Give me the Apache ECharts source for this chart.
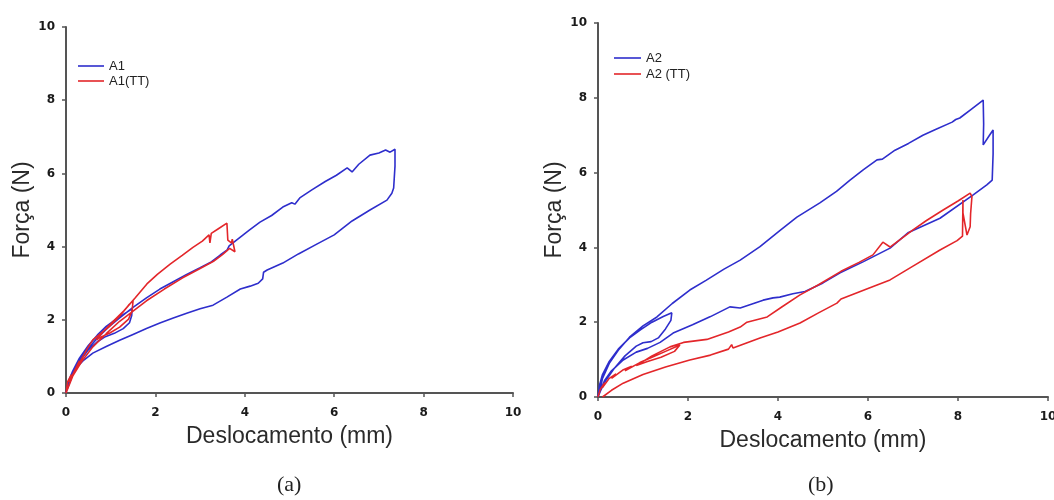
<!DOCTYPE html>
<html>
<head>
<meta charset="utf-8">
<script src="https://cdn.jsdelivr.net/npm/echarts@6/dist/echarts.min.js"></script>
<style>
  html, body { margin: 0; padding: 0; background: #fff; }
  #chart { width: 1054px; height: 500px; }
</style>
</head>
<body>
<div id="chart"></div>
<script>
// Force–displacement loading/unloading loops, two specimens.
// Each path is a list of [displacement (mm), force (N)] in acquisition order.

const AXIS_TICKS = [0, 2, 4, 6, 8, 10];

const A1 = [
  [0, 0], [0.05, 0.3], [0.15, 0.6], [0.3, 0.95], [0.5, 1.3], [0.7, 1.58], [0.9, 1.82],
  [1.1, 2.0], [1.3, 2.16], [1.48, 2.3],
  [1.47, 2.12], [1.42, 1.92], [1.28, 1.76], [1.08, 1.63], [0.88, 1.54], [0.7, 1.4],
  [0.5, 1.18], [0.3, 0.85], [0.14, 0.48], [0.03, 0.12],
  [0.1, 0.45], [0.25, 0.8], [0.45, 1.15], [0.7, 1.5], [0.95, 1.8], [1.2, 2.05],
  [1.5, 2.34], [1.8, 2.6], [2.1, 2.84], [2.4, 3.04], [2.7, 3.24], [3.0, 3.42],
  [3.25, 3.58], [3.45, 3.77], [3.6, 3.9], [3.65, 4.02], [3.9, 4.26], [4.1, 4.45],
  [4.34, 4.67], [4.6, 4.85], [4.85, 5.08], [5.05, 5.2], [5.12, 5.16], [5.23, 5.33],
  [5.5, 5.55], [5.8, 5.78], [6.05, 5.95], [6.29, 6.15], [6.4, 6.04], [6.55, 6.25],
  [6.8, 6.5], [7.0, 6.56], [7.15, 6.64], [7.25, 6.58], [7.36, 6.66],
  [7.36, 6.2], [7.33, 5.6], [7.29, 5.46], [7.18, 5.27],
  [6.8, 5.0], [6.4, 4.7], [6.0, 4.32], [5.6, 4.06], [5.2, 3.8], [4.85, 3.55],
  [4.5, 3.36], [4.42, 3.3], [4.4, 3.12], [4.3, 3.0], [4.12, 2.92], [3.9, 2.84],
  [3.6, 2.62], [3.29, 2.4], [3.0, 2.3], [2.7, 2.18], [2.4, 2.05], [2.1, 1.91],
  [1.8, 1.76], [1.5, 1.6], [1.2, 1.44], [0.9, 1.27], [0.6, 1.09], [0.4, 0.9],
  [0.16, 0.6], [0.05, 0.3], [0, 0]
];

const A1_TT = [
  [0, 0], [0.04, 0.32], [0.12, 0.5], [0.07, 0.3], [0.18, 0.58], [0.3, 0.88], [0.22, 0.62],
  [0.36, 0.95], [0.48, 1.22], [0.6, 1.45], [0.8, 1.65], [0.98, 1.83], [1.2, 2.1],
  [1.4, 2.4], [1.5, 2.52],
  [1.48, 2.25], [1.4, 2.02], [1.2, 1.8], [0.98, 1.64], [0.8, 1.54], [0.68, 1.45],
  [0.85, 1.7], [1.05, 1.95], [1.3, 2.25], [1.55, 2.6], [1.81, 2.98], [2.05, 3.25],
  [2.33, 3.52], [2.6, 3.76], [2.84, 3.98], [3.05, 4.15], [3.2, 4.32], [3.22, 4.1],
  [3.25, 4.36], [3.4, 4.48], [3.6, 4.64], [3.62, 4.18], [3.7, 4.1], [3.72, 4.2],
  [3.78, 3.86], [3.66, 3.95], [3.5, 3.78],
  [3.3, 3.6], [3.0, 3.4], [2.6, 3.14], [2.2, 2.84], [1.8, 2.52], [1.5, 2.24],
  [1.2, 1.96], [0.9, 1.62], [0.6, 1.26], [0.35, 0.86], [0.15, 0.46], [0, 0]
];

const A2 = [
  [0, 0], [0.03, 0.3], [0.1, 0.6], [0.25, 0.95], [0.45, 1.28], [0.7, 1.58], [0.95, 1.8],
  [1.2, 2.0], [1.45, 2.15], [1.64, 2.25],
  [1.62, 2.05], [1.5, 1.82], [1.34, 1.58], [1.18, 1.48], [1.0, 1.45], [0.85, 1.36],
  [0.6, 1.1], [0.35, 0.75], [0.15, 0.4], [0.03, 0.1],
  [0.1, 0.5], [0.25, 0.9], [0.45, 1.25], [0.7, 1.6], [1.0, 1.9], [1.31, 2.14],
  [1.65, 2.5], [2.04, 2.86], [2.4, 3.12], [2.8, 3.42], [3.16, 3.66], [3.6, 4.02],
  [4.04, 4.45], [4.42, 4.81], [4.93, 5.19], [5.3, 5.5], [5.6, 5.8], [5.9, 6.08],
  [6.2, 6.34], [6.32, 6.36], [6.6, 6.6], [6.9, 6.78], [7.22, 7.0], [7.5, 7.15],
  [7.87, 7.35], [7.95, 7.42], [8.04, 7.46], [8.3, 7.7], [8.56, 7.94],
  [8.57, 7.3], [8.56, 6.74], [8.7, 7.0], [8.78, 7.14], [8.78, 6.5], [8.76, 5.8],
  [8.64, 5.67], [8.33, 5.4], [7.6, 4.78], [6.9, 4.4], [6.49, 3.98], [5.9, 3.62],
  [5.38, 3.32], [5.0, 3.05], [4.6, 2.82], [4.33, 2.76], [4.04, 2.67], [3.89, 2.65],
  [3.67, 2.59], [3.16, 2.38], [2.93, 2.41], [2.5, 2.15], [2.1, 1.93], [1.67, 1.71],
  [1.38, 1.46], [1.1, 1.3], [0.85, 1.2], [0.56, 0.99], [0.3, 0.7], [0.15, 0.45],
  [0.05, 0.15], [0, 0]
];

const A2_TT = [
  [0, 0], [0.05, 0.2], [0.15, 0.38], [0.1, 0.25], [0.25, 0.5], [0.4, 0.62], [0.3, 0.5],
  [0.55, 0.72], [0.75, 0.82], [0.6, 0.7], [0.93, 0.92], [1.2, 1.06], [1.5, 1.22],
  [1.82, 1.39],
  [1.7, 1.22], [1.4, 1.06], [1.1, 0.95], [0.85, 0.84],
  [1.2, 1.1], [1.6, 1.34], [1.9, 1.46], [2.42, 1.54], [2.9, 1.74], [3.16, 1.87],
  [3.31, 2.0], [3.76, 2.14], [4.1, 2.42], [4.49, 2.73], [4.9, 3.0], [5.4, 3.36],
  [5.8, 3.6], [6.11, 3.8], [6.33, 4.14], [6.49, 4.01], [7.0, 4.47], [7.3, 4.72],
  [7.67, 5.0], [8.0, 5.24], [8.27, 5.45],
  [8.31, 5.36], [8.28, 4.9], [8.27, 4.55], [8.2, 4.33], [8.11, 4.92], [8.11, 5.27],
  [8.1, 4.3], [7.98, 4.18], [7.6, 3.93], [7.0, 3.5], [6.49, 3.13], [6.0, 2.9],
  [5.4, 2.62], [5.31, 2.51], [4.9, 2.25], [4.49, 1.98], [4.0, 1.74], [3.6, 1.58],
  [3.0, 1.31], [2.97, 1.4], [2.9, 1.28], [2.5, 1.12], [2.04, 0.99], [1.5, 0.8],
  [1.0, 0.6], [0.56, 0.37], [0.3, 0.18], [0.1, 0]
];

const BLUE = '#2e2ecc';
const RED = '#e3262a';
const AXIS_COLOR = '#555';
const TICK_FONT = { fontFamily: 'DejaVu Sans', fontWeight: 'bold', fontSize: 12, color: '#1a1a1a' };

const chart = echarts.init(document.getElementById('chart'), null, { renderer: 'canvas' });

function xAxis(gridIndex) {
  return {
    type: 'value', gridIndex, min: 0, max: 10, interval: 2,
    name: 'Deslocamento (mm)', nameLocation: 'middle', nameGap: 32,
    nameTextStyle: { fontFamily: 'Liberation Sans', fontSize: 23, color: '#2a2a2a' },
    axisLine: { show: true, onZero: false, lineStyle: { color: AXIS_COLOR, width: 2 } },
    axisTick: { show: true, inside: false, length: 4, lineStyle: { color: AXIS_COLOR, width: 1.5 } },
    axisLabel: Object.assign({ margin: 14 }, TICK_FONT),
    splitLine: { show: false }
  };
}

function yAxis(gridIndex, gap) {
  return {
    type: 'value', gridIndex, min: 0, max: 10, interval: 2,
    name: 'Força (N)', nameLocation: 'middle', nameGap: gap, nameRotate: 90,
    nameTextStyle: { fontFamily: 'Liberation Sans', fontSize: 23, color: '#2a2a2a' },
    axisLine: { show: true, onZero: false, lineStyle: { color: AXIS_COLOR, width: 2 } },
    axisTick: { show: true, inside: false, length: 4, lineStyle: { color: AXIS_COLOR, width: 1.5 } },
    axisLabel: Object.assign({ margin: 11 }, TICK_FONT),
    splitLine: { show: false }
  };
}

function path(name, data, color, idx) {
  return {
    name, type: 'line', data, xAxisIndex: idx, yAxisIndex: idx,
    showSymbol: false, symbol: 'none', smooth: false, animation: false,
    lineStyle: { color, width: 1.6 }, itemStyle: { color },
    emphasis: { disabled: true }
  };
}

const legendText = { fontFamily: 'Liberation Sans', fontSize: 13, color: '#222', lineHeight: 14 };

chart.setOption({
  backgroundColor: '#fff',
  animation: false,
  grid: [
    { left: 66, right: 541, top: 27, bottom: 107, outerBoundsMode: 'none', containLabel: false },
    { left: 598, right: 6, top: 23, bottom: 103, outerBoundsMode: 'none', containLabel: false }
  ],
  xAxis: [xAxis(0), xAxis(1)],
  yAxis: [yAxis(0, 31), yAxis(1, 30)],
  legend: [
    {
      data: ['A1', 'A1(TT)'], orient: 'vertical', left: 73, top: 54,
      icon: 'rect', itemWidth: 26, itemHeight: 1.6, itemGap: 1, textStyle: legendText
    },
    {
      data: ['A2', 'A2 (TT)'], orient: 'vertical', left: 609, top: 46,
      icon: 'rect', itemWidth: 27, itemHeight: 1.6, itemGap: 2, textStyle: legendText
    }
  ],
  series: [
    path('A1', A1, BLUE, 0),
    path('A1(TT)', A1_TT, RED, 0),
    path('A2', A2, BLUE, 1),
    path('A2 (TT)', A2_TT, RED, 1)
  ],
  graphic: [
    { type: 'text', left: 277, top: 474, style: { text: '(a)', font: '22px "Liberation Serif"', fill: '#222' } },
    { type: 'text', left: 808, top: 474, style: { text: '(b)', font: '22px "Liberation Serif"', fill: '#222' } }
  ]
});
</script>
</body>
</html>
